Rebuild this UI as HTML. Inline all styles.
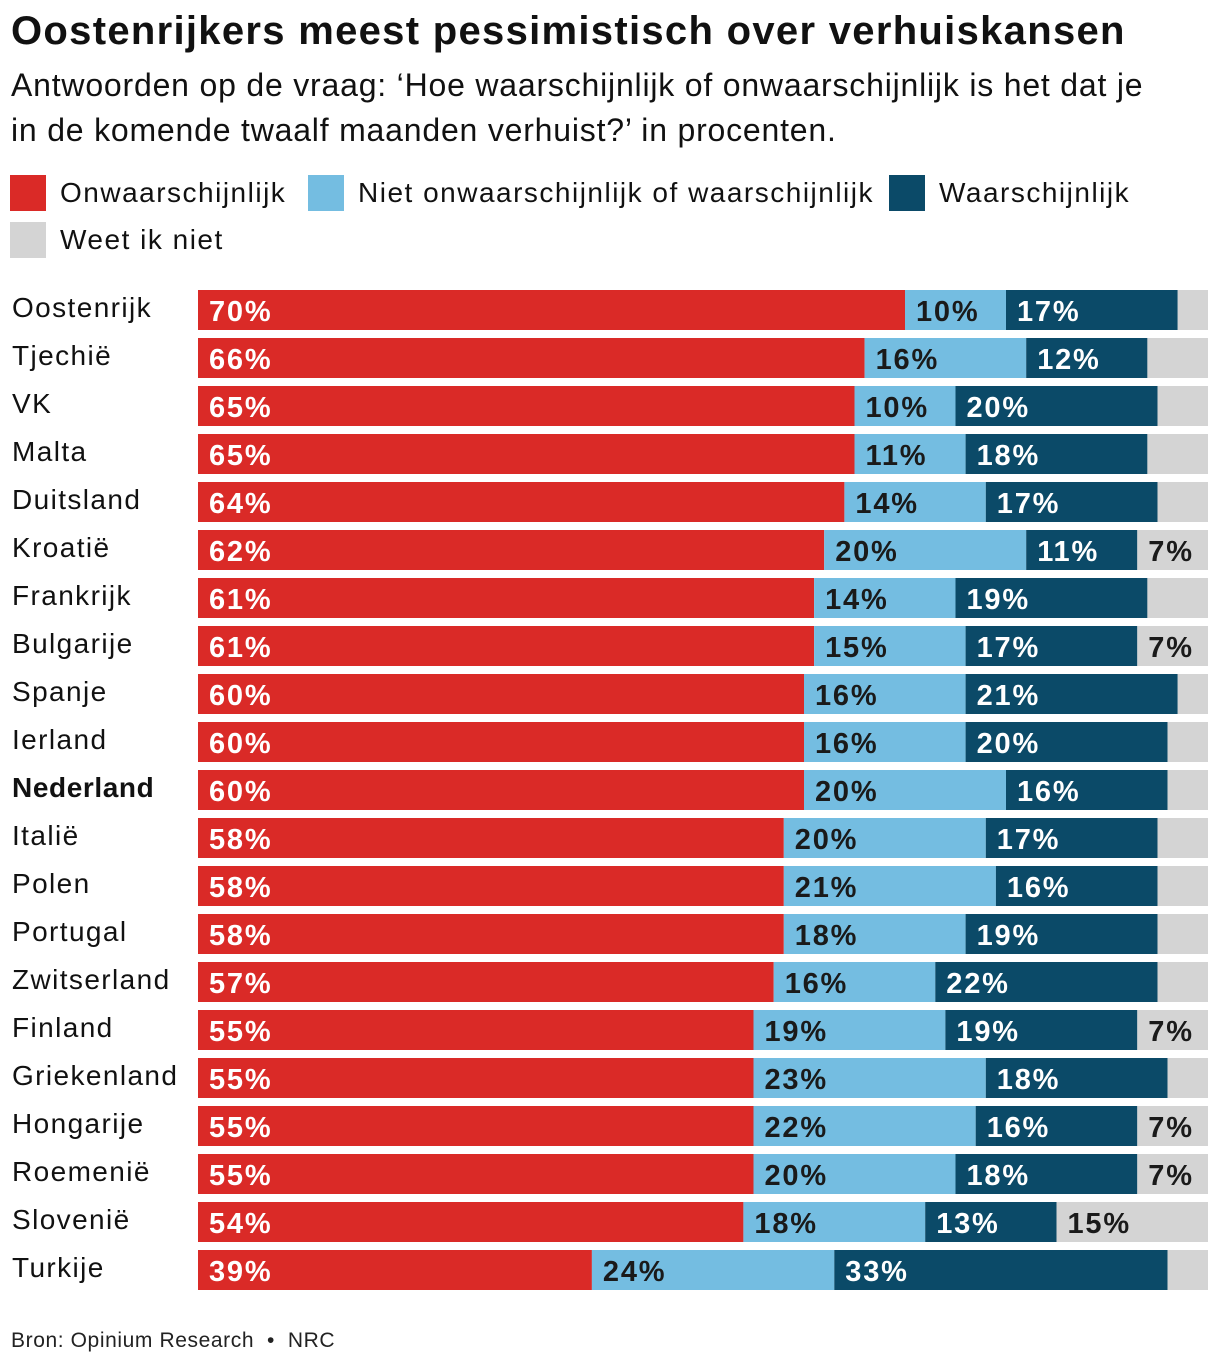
<!DOCTYPE html>
<html><head><meta charset="utf-8"><style>
body{margin:0;background:#fff;width:1220px;height:1370px;overflow:hidden;font-family:"Liberation Sans",sans-serif;color:#111;position:relative}
.t{position:absolute;white-space:nowrap}
.lg{font-size:28px;letter-spacing:1.5px}
</style></head><body>
<div class="t" style="left:11px;top:9px;font-size:40px;font-weight:bold;letter-spacing:1.3px">Oostenrijkers meest pessimistisch over verhuiskansen</div>
<div class="t" style="left:11px;top:63px;font-size:32px;letter-spacing:0.8px;line-height:45px">Antwoorden op de vraag: ‘Hoe waarschijnlijk of onwaarschijnlijk is het dat je<br>in de komende twaalf maanden verhuist?’ in procenten.</div>
<div>
<div class="t lg" style="left:10px;top:175px"><span style="display:inline-block;width:36px;height:36px;background:#da2a27;vertical-align:middle"></span><span style="margin-left:14px;vertical-align:middle">Onwaarschijnlijk</span></div>
<div class="t lg" style="left:308px;top:175px"><span style="display:inline-block;width:36px;height:36px;background:#74bde1;vertical-align:middle"></span><span style="margin-left:14px;vertical-align:middle">Niet onwaarschijnlijk of waarschijnlijk</span></div>
<div class="t lg" style="left:889px;top:175px"><span style="display:inline-block;width:36px;height:36px;background:#0b4a68;vertical-align:middle"></span><span style="margin-left:14px;vertical-align:middle">Waarschijnlijk</span></div>
<div class="t lg" style="left:10px;top:222px"><span style="display:inline-block;width:36px;height:36px;background:#d4d4d4;vertical-align:middle"></span><span style="margin-left:14px;vertical-align:middle">Weet ik niet</span></div>
</div>
<svg id="chart" width="1220" height="1370" style="position:absolute;left:0;top:0"></svg>
<div class="t" style="left:11px;top:1329px;font-size:21px;letter-spacing:0.6px;color:#222">Bron: Opinium Research &nbsp;•&nbsp; NRC</div>
<script>
const countries=["Oostenrijk","Tjechië","VK","Malta","Duitsland","Kroatië","Frankrijk","Bulgarije","Spanje","Ierland","Nederland","Italië","Polen","Portugal","Zwitserland","Finland","Griekenland","Hongarije","Roemenië","Slovenië","Turkije"];
const onw=[70,66,65,65,64,62,61,61,60,60,60,58,58,58,57,55,55,55,55,54,39];
const neutr=[10,16,10,11,14,20,14,15,16,16,20,20,21,18,16,19,23,22,20,18,24];
const waar=[17,12,20,18,17,11,19,17,21,20,16,17,16,19,22,19,18,16,18,13,33];
const colors=["#da2a27","#74bde1","#0b4a68","#d4d4d4"];
const textCol=["#fff","#1a1a1a","#fff","#1a1a1a"];
const svg=document.getElementById('chart');
const NS="http://www.w3.org/2000/svg";
const x0=198,x1=1208,y0=290,pitch=48,bh=40;
const xs=v=>x0+(x1-x0)*v/100;
const ys=i=>y0+i*pitch;
countries.forEach((c,i)=>{
  const t=document.createElementNS(NS,'text');
  
  
  t.setAttribute('x',12);t.setAttribute('y',ys(i)+27);
  t.setAttribute('font-size','28');t.setAttribute('fill','#111');
  t.setAttribute('letter-spacing','1.4');
  if(c==="Nederland"){t.setAttribute('font-weight','bold');t.setAttribute('letter-spacing','0.6');}
  t.textContent=c;svg.appendChild(t);
  const vals=[onw[i],neutr[i],waar[i],100-onw[i]-neutr[i]-waar[i]];
  let acc=0;
  vals.forEach((v,k)=>{
    const r=document.createElementNS(NS,'rect');
    
    
    r.setAttribute('x',xs(acc));r.setAttribute('y',ys(i));
    r.setAttribute('width',Math.max(0,xs(acc+v)-xs(acc)));r.setAttribute('height',bh);
    r.setAttribute('fill',colors[k]);svg.appendChild(r);
    if(k<3||v>=7){
      const l=document.createElementNS(NS,'text');
      
      
      l.setAttribute('x',xs(acc)+11);l.setAttribute('y',ys(i)+31);
      l.setAttribute('font-size','29');l.setAttribute('font-weight','bold');
      l.setAttribute('letter-spacing','1.8');
      l.setAttribute('fill',textCol[k]);
      l.textContent=v+'%';svg.appendChild(l);
    }
    acc+=v;
  });
});
</script>
</body></html>
